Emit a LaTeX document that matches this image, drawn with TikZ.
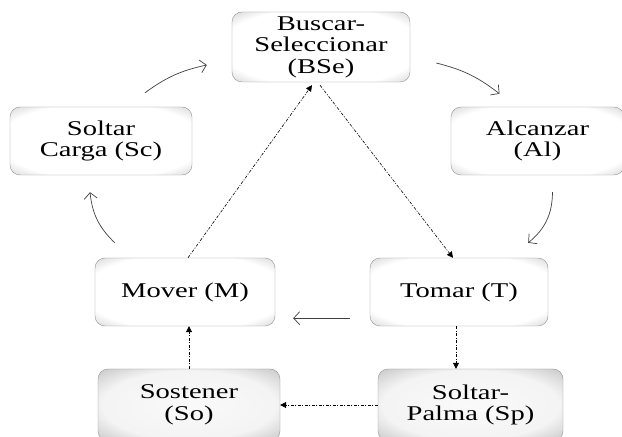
\documentclass[tikz,border=0pt]{standalone}
\usepackage{fontspec}
\setmainfont{Liberation Serif}[FakeStretch=1.36]
\usetikzlibrary{arrows.meta,positioning}

\pgfdeclareradialshading{glowlight}{\pgfpoint{0bp}{0bp}}{color(0bp)=(white); color(28bp)=(white); color(35bp)=(gray!28); color(50bp)=(gray!55)}
\pgfdeclareradialshading{glowdark}{\pgfpoint{0bp}{0bp}}{color(0bp)=(gray!4); color(24bp)=(gray!9); color(35bp)=(gray!42); color(50bp)=(gray!65)}

\begin{document}
\begin{tikzpicture}[x=1pt,y=1pt,
        stage/.style={draw=gray!85,rounded corners=10pt,shade,shading=glowlight,
            inner sep=0pt,align=center,font=\fontsize{21}{21.5}\selectfont,text=black,
            minimum height=68pt},
        held/.style={stage,shading=glowdark,minimum height=72pt},
        cyc/.style={draw=black!75,line width=0.7pt,-{Straight Barb[length=6pt,width=13pt]}},
        dd/.style={draw=black,line width=0.6pt,dash pattern=on 3pt off 1.5pt on 1pt off 1.5pt,
            -{Triangle[length=6pt,width=6pt]}}]
    \useasboundingbox (0,0) rectangle (622,437);
    \node [stage,minimum width=178pt,minimum height=70pt] (bse) at (321,390) {Buscar-\\Seleccionar\\(BSe)};
    \node [stage,minimum width=182pt] (sc) at (101,296) {Soltar\\Carga (Sc)};
    \node [stage,minimum width=173pt] (al) at (537.5,296) {Alcanzar\\(Al)};
    \node [stage,minimum width=180pt] (m) at (185,145) {Mover (M)};
    \node [stage,minimum width=178pt] (t) at (459,145) {Tomar (T)};
    \node [held,minimum width=182pt] (so) at (189,32) {Sostener\\(So)};
    \node [held,minimum width=185pt] (sp) at (470.5,32) {Soltar-\\Palma (Sp)};
    % ciclo principal
    \draw [cyc] ([xshift=44pt,yshift=14pt]sc.north) to[bend left=12] ([xshift=-25pt,yshift=-18pt]bse.west);
    \draw [cyc] ([xshift=26pt,yshift=-16pt]bse.east) to[bend left=12] ([xshift=-38pt,yshift=13pt]al.north);
    \draw [cyc] ([xshift=15pt,yshift=-17pt]al.south) to[bend left=25] ([xshift=-20pt,yshift=15pt]t.north east);
    \draw [cyc] ([xshift=-20pt,yshift=8pt]t.south west) -- ([xshift=18pt,yshift=8pt]m.south east);
    \draw [cyc] ([xshift=20pt,yshift=15pt]m.north west) to[bend left=20] ([xshift=-11pt,yshift=-17pt]sc.south);
    % caminos alternos
    \draw [dd] ([xshift=3pt]m.north) -- ([xshift=-9pt,yshift=-3pt]bse.south);
    \draw [dd] ([xshift=-1pt,yshift=-3pt]bse.south) -- ([xshift=-6pt]t.north);
    \draw [dd] ([xshift=-3pt]t.south) -- ([xshift=-3pt]t.south |- sp.north);
    \draw [dd] (sp.west) -- (so.east);
    \draw [dd] (so.north) -- (so.north |- m.south);
\end{tikzpicture}
\end{document}
